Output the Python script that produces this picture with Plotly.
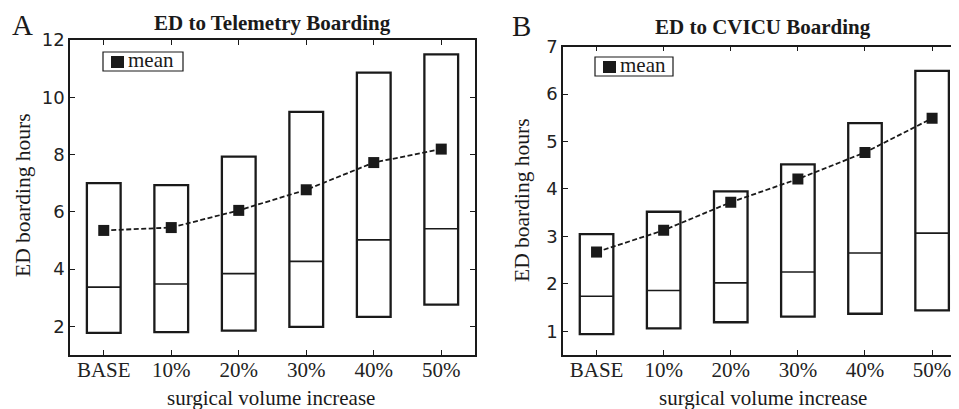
import plotly.graph_objects as go

W, H = 959, 409
OFF = 8  # page body margin offset of the rendered figure

categories = ["BASE", "10%", "20%", "30%", "40%", "50%"]

# Panel A: ED to Telemetry Boarding
tele_top = [7.0, 6.93, 7.93, 9.49, 10.86, 11.5]
tele_bottom = [1.77, 1.80, 1.85, 1.98, 2.33, 2.76]
tele_median = [3.37, 3.48, 3.84, 4.27, 5.02, 5.41]
tele_mean = [5.35, 5.45, 6.05, 6.77, 7.72, 8.19]

# Panel B: ED to CVICU Boarding
cvicu_top = [3.05, 3.52, 3.95, 4.52, 5.39, 6.49]
cvicu_bottom = [0.94, 1.06, 1.19, 1.31, 1.37, 1.44]
cvicu_median = [1.74, 1.86, 2.02, 2.25, 2.65, 3.07]
cvicu_mean = [2.67, 3.13, 3.72, 4.21, 4.77, 5.49]

tele_yticks = [2, 4, 6, 8, 10, 12]
cvicu_yticks = [1, 2, 3, 4, 5, 6, 7]

INK = "#1a1a1a"
SERIF = "Liberation Serif"
SANS = "DejaVu Sans"


def px(x):
    return (x - OFF) / W


def py(y):
    return 1 - (y - OFF) / H


fig = go.Figure()


def add_panel(top, bottom, median, mean, xa, ya):
    fig.add_trace(go.Bar(
        x=categories, y=[t - b for t, b in zip(top, bottom)], base=bottom,
        width=0.5, marker=dict(color="white", line=dict(color=INK, width=2.3)),
        xaxis=xa, yaxis=ya, showlegend=False, hoverinfo="skip"))
    fig.add_trace(go.Scatter(
        x=categories, y=median, mode="markers",
        marker=dict(symbol="line-ew", size=24,
                    line=dict(color=INK, width=1.6)),
        xaxis=xa, yaxis=ya, showlegend=False, hoverinfo="skip"))
    fig.add_trace(go.Scatter(
        x=categories, y=mean, mode="lines+markers",
        line=dict(color=INK, width=1.8, dash="5px,2.5px"),
        marker=dict(symbol="square", size=11, color=INK),
        xaxis=xa, yaxis=ya, showlegend=False))


add_panel(tele_top, tele_bottom, tele_median, tele_mean, "x", "y")
add_panel(cvicu_top, cvicu_bottom, cvicu_median, cvicu_mean, "x2", "y2")

xcommon = dict(
    type="category", showline=True, linecolor=INK, linewidth=1.5,
    ticks="inside", ticklen=5, tickcolor=INK, tickwidth=1.2,
    tickfont=dict(family=SERIF, size=21, color="#222"), ticklabelstandoff=-5,
    showgrid=False, zeroline=False, automargin=False, fixedrange=True,
)
ycommon = dict(
    showline=True, linecolor=INK, linewidth=1.5,
    ticks="inside", ticklen=5, tickcolor=INK, tickwidth=1.2,
    tickfont=dict(family=SANS, size=18, color="#222"),
    showgrid=False, zeroline=False, automargin=False, fixedrange=True,
)

fig.update_layout(
    width=W, height=H,
    margin=dict(l=0, r=0, t=0, b=0),
    paper_bgcolor="white", plot_bgcolor="white",
    barmode="overlay",
    xaxis=dict(domain=[px(70), px(475)], range=[-0.5, 5.5], mirror="ticks",
               anchor="y", **xcommon),
    yaxis=dict(domain=[py(355), py(40)], range=[1, 12], tickvals=tele_yticks,
               mirror="ticks", anchor="x", **ycommon),
    xaxis2=dict(domain=[px(563), 1.0], range=[-0.5, 5.52], mirror="ticks",
                anchor="y2", **xcommon),
    yaxis2=dict(domain=[py(355), py(46.7)], range=[0.5, 7], tickvals=cvicu_yticks,
                mirror=False, anchor="x2", **ycommon),
    showlegend=False,
)

annotations = [
    # panel letters
    dict(text="A", x=px(22), y=py(25), font=dict(family=SERIF, size=29, color=INK)),
    dict(text="B", x=px(521), y=py(26), font=dict(family=SERIF, size=29, color=INK)),
    # titles
    dict(text="<b>ED to Telemetry Boarding</b>", x=px(272), y=py(23),
         font=dict(family=SERIF, size=21, color=INK)),
    dict(text="<b>ED to CVICU Boarding</b>", x=px(763), y=py(27),
         font=dict(family=SERIF, size=21, color=INK)),
    # axis titles
    dict(text="surgical volume increase", x=px(271), y=py(398),
         font=dict(family=SERIF, size=21, color=INK)),
    dict(text="surgical volume increase", x=px(763), y=py(398),
         font=dict(family=SERIF, size=21, color=INK)),
    dict(text="ED boarding hours", x=px(23), y=py(195), textangle=-90,
         font=dict(family=SERIF, size=21.5, color=INK)),
    dict(text="ED boarding hours", x=px(522), y=py(200), textangle=-90,
         font=dict(family=SERIF, size=21.5, color=INK)),
    # legend labels
    dict(text="mean", x=px(126), y=py(60), xanchor="left",
         font=dict(family=SERIF, size=21, color=INK)),
    dict(text="mean", x=px(618), y=py(65), xanchor="left",
         font=dict(family=SERIF, size=21, color=INK)),
]
for a in annotations:
    a.setdefault("xanchor", "center")
    a.update(xref="paper", yref="paper", yanchor="middle", showarrow=False)
fig.update_layout(annotations=annotations)

shapes = []
for (x0, y0, x1, y1, mx, my) in [(103, 52, 183, 71, 117.5, 62),
                                  (595, 57, 673, 76, 609.5, 67)]:
    shapes.append(dict(type="rect", xref="paper", yref="paper",
                       x0=px(x0), x1=px(x1), y0=py(y0), y1=py(y1),
                       line=dict(color=INK, width=1.2), fillcolor="white"))
    shapes.append(dict(type="rect", xref="paper", yref="paper",
                       x0=px(mx - 6.5), x1=px(mx + 6.5), y0=py(my - 6), y1=py(my + 6),
                       line=dict(width=0), fillcolor=INK))
fig.update_layout(shapes=shapes)

fig.write_html("out.html")
